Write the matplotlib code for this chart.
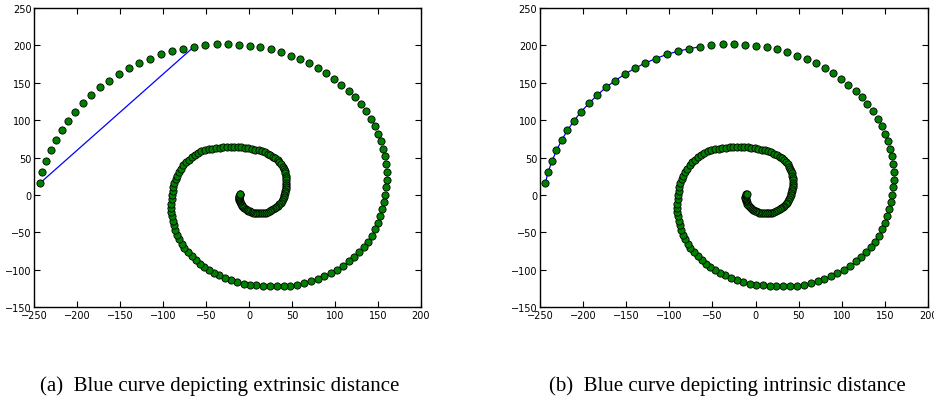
import matplotlib
matplotlib.use('Agg')
import matplotlib.pyplot as plt

# spiral points, outer end first
spiral_x = [-243.8, -240.7, -236.0, -231.0, -224.8, -218.2, -210.5, -202.3, -193.0, -183.7,
            -173.6, -162.8, -151.6, -139.9, -127.9, -115.5, -103.1, -90.3, -77.1, -64.3,
            -51.2, -38.0, -25.2, -12.4, 0.4, 12.8, 25.2, 36.8, 48.4, 59.3,
            70.2, 80.2, 89.9, 98.8, 107.4, 115.9, 123.3, 129.8, 136.0, 141.5,
            146.1, 150.0, 153.5, 156.2, 158.1, 159.3, 160.1, 160.1, 159.3, 158.5,
            157.0, 155.0, 152.7, 150.0, 146.9, 143.0, 138.4, 133.7, 128.3, 122.5,
            115.9, 109.3, 102.3, 95.0, 87.6, 79.8, 72.5, 64.3, 56.2, 48.1,
            40.3, 32.2, 24.0, 16.3, 8.5, 0.8, -6.6, -14.3, -21.7, -28.7,
            -35.3, -41.5, -46.5, -52.3, -57.4, -62.4, -67.1, -71.7, -75.6, -78.7,
            -81.4, -84.1, -86.4, -88.0, -89.1, -89.9, -90.7, -90.7,
            -90.7, -90.3, -89.8, -89.2, -88.3, -87.1, -85.6, -83.8, -81.7, -79.3,
            -76.6, -73.6, -70.4, -67.0, -63.4, -59.6, -55.6, -51.5, -47.3, -43.0,
            -38.7, -34.4, -30.1, -25.8, -21.6, -17.4, -13.2, -9.0, -4.9, -0.8,
            3.2, 7.1, 10.9, 14.6, 18.2, 21.6, 24.8, 27.8, 30.5, 33.0,
            35.2, 37.1, 38.8, 40.2, 41.3, 42.2, 42.8, 43.2, 43.4, 43.4,
            43.3, 43.0, 42.7, 42.2, 41.6, 40.9, 40.0, 39.0, 37.8, 36.5,
            35.0, 33.4, 31.7, 29.8, 27.9, 25.8, 23.7, 21.5, 19.3, 17.1,
            14.9, 12.7, 10.5, 8.4, 6.3, 4.3, 2.4, 0.6, -1.1, -2.7,
            -4.2, -5.5, -6.7, -7.8, -8.8, -9.6, -10.3, -10.9, -11.3, -11.6,
            -11.7, -11.7, -11.5, -11.2, -10.8, -10.3]
spiral_y = [15.5, 30.6, 45.2, 59.4, 73.2, 86.5, 99.3, 111.3, 122.8, 133.5,
            143.7, 153.0, 161.4, 169.4, 176.5, 182.3, 188.0, 192.0, 195.6, 198.2,
            200.4, 201.3, 201.8, 200.9, 199.6, 197.3, 194.7, 191.1, 186.3, 181.4,
            176.0, 169.8, 162.7, 155.2, 147.2, 138.8, 130.4, 121.5, 111.8, 102.0,
            92.2, 82.0, 71.8, 61.6, 51.4, 40.8, 30.6, 20.4, 10.2, 0.0,
            -9.8, -19.1, -28.8, -38.1, -46.1, -54.5, -62.5, -69.6, -76.7, -83.4,
            -89.1, -94.9, -100.2, -105.1, -109.1, -113.1, -115.7, -118.4, -120.2, -121.5,
            -122.0, -122.0, -122.0, -122.0, -121.1, -120.2, -118.8, -116.6, -114.0, -111.3,
            -107.8, -104.2, -100.2, -96.2, -91.8, -86.9, -81.6, -76.3, -70.5, -65.2,
            -59.0, -53.2, -47.0, -40.8, -34.6, -28.8, -23.1, -17.3,
            -11.6, -6.0, -0.5, 5.0, 10.4, 15.7, 20.8, 25.8, 30.6, 35.2,
            39.5, 43.5, 47.2, 50.5, 53.5, 56.0, 58.2, 59.9, 61.0, 62.0,
            62.7, 63.2, 63.6, 63.8, 63.9, 63.9, 63.7, 63.4, 62.9, 62.3,
            61.6, 60.7, 59.6, 58.3, 56.9, 55.2, 53.3, 51.2, 48.9, 46.4,
            43.7, 40.9, 37.9, 34.9, 31.8, 28.7, 25.6, 22.5, 19.4, 16.4,
            13.4, 10.5, 7.6, 4.8, 2.0, -0.7, -3.3, -5.8, -8.2, -10.5,
            -12.6, -14.6, -16.4, -18.0, -19.5, -20.8, -21.9, -22.9, -23.7, -24.3,
            -24.7, -24.9, -24.9, -24.7, -24.3, -23.7, -22.9, -22.0, -21.0, -19.9,
            -18.7, -17.4, -16.0, -14.6, -13.1, -11.6, -10.1, -8.6, -7.1, -5.6,
            -4.2, -2.8, -1.5, -0.3, 0.8, 1.8]

# blue curve joins the outer end to the 20th point
path_end = 20
captions = ['(a)  Blue curve depicting extrinsic distance',
            '(b)  Blue curve depicting intrinsic distance']
xticks = [-250, -200, -150, -100, -50, 0, 50, 100, 150, 200]
yticks = [-150, -100, -50, 0, 50, 100, 150, 200, 250]

fig = plt.figure(figsize=(9.34, 4.02), dpi=100)
ax_a = fig.add_axes([0.0369, 0.2338, 0.4138, 0.7438])
ax_b = fig.add_axes([0.5782, 0.2338, 0.4154, 0.7438])

for i, ax in enumerate([ax_a, ax_b]):
    if i == 0:
        ax.plot([spiral_x[0], spiral_x[path_end - 1]],
                [spiral_y[0], spiral_y[path_end - 1]], color='b', lw=0.9, zorder=1)
    else:
        ax.plot(spiral_x[:path_end], spiral_y[:path_end], color='b', lw=0.9, zorder=1)
    ax.plot(spiral_x, spiral_y, 'o', color=(0, 0.5, 0), mec='k', mew=0.6,
            ms=5.2, linestyle='none', zorder=2)
    ax.set_xlim(-250, 200)
    ax.set_ylim(-150, 250)
    ax.set_xticks(xticks)
    ax.set_yticks(yticks)
    ax.tick_params(direction='in', length=4, width=0.8, top=True, right=True,
                   labelsize=7, pad=2)
    for sp in ax.spines.values():
        sp.set_linewidth(1.0)

fig.text(0.2355, 0.04, captions[0], ha='center', va='center',
         family='Liberation Serif', fontsize=15)
fig.text(0.779, 0.04, captions[1], ha='center', va='center',
         family='Liberation Serif', fontsize=15)

plt.savefig('out.png', dpi=100)
